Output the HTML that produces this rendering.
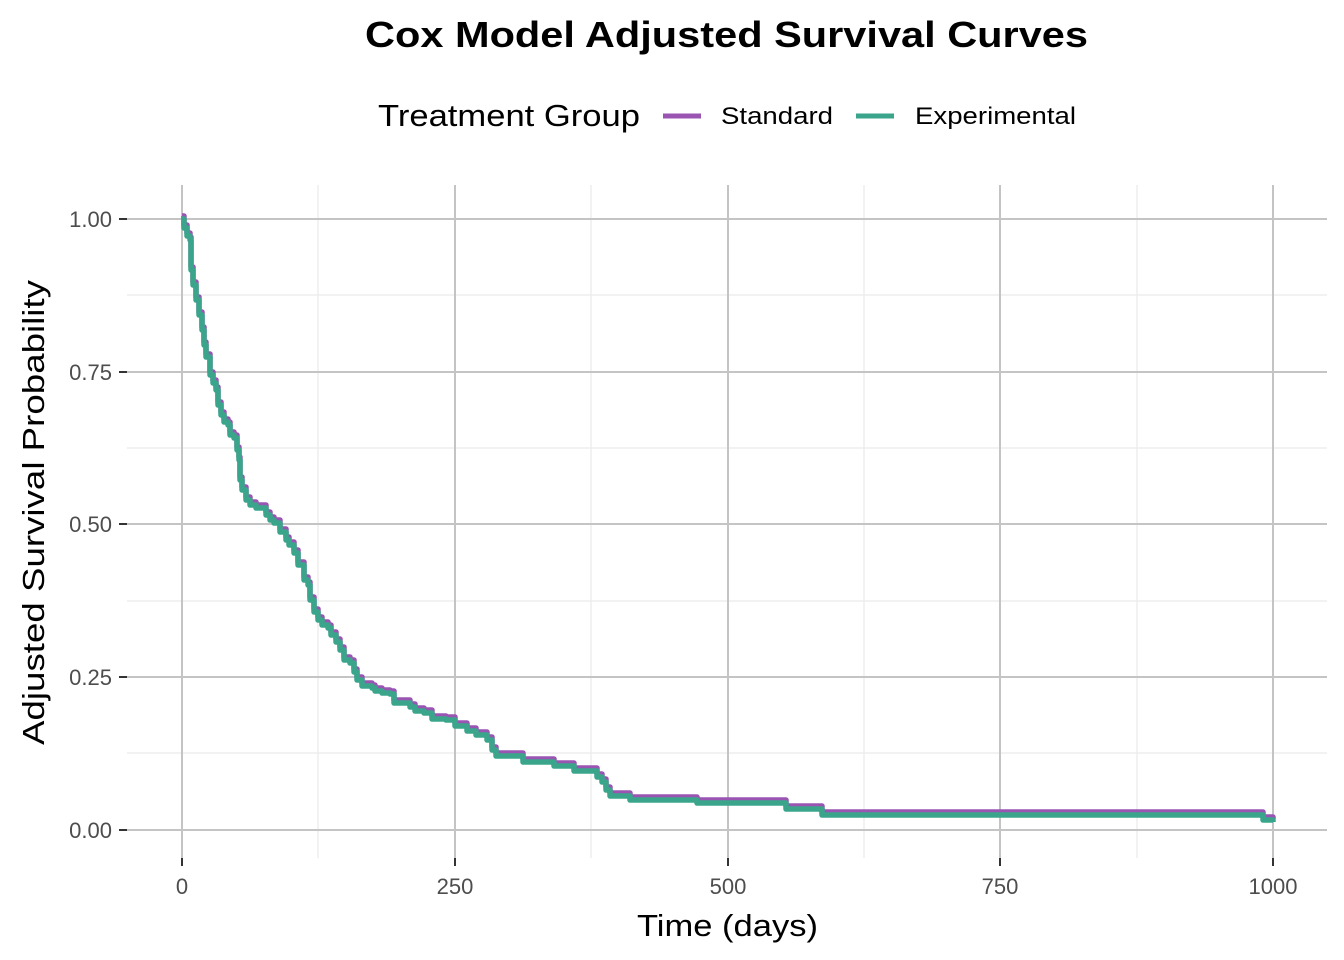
<!DOCTYPE html>
<html><head><meta charset="utf-8"><style>
html,body{margin:0;padding:0;background:#fff;}
svg{display:block;font-family:"Liberation Sans",Arial,sans-serif;}
</style></head><body>
<svg width="1344" height="960" viewBox="0 0 1344 960" xmlns="http://www.w3.org/2000/svg">
<rect width="1344" height="960" fill="#fff"/>
<text x="365" y="47" font-size="36" font-weight="bold" fill="#000" textLength="723" lengthAdjust="spacingAndGlyphs">Cox Model Adjusted Survival Curves</text>
<text x="378" y="126" font-size="31" fill="#000" textLength="262" lengthAdjust="spacingAndGlyphs">Treatment Group</text>
<line x1="663" y1="116" x2="701" y2="116" stroke="#9a55b3" stroke-width="5"/>
<text x="721" y="124" font-size="24" fill="#000" textLength="112" lengthAdjust="spacingAndGlyphs">Standard</text>
<line x1="856" y1="116" x2="894" y2="116" stroke="#3aa58b" stroke-width="5"/>
<text x="915" y="124" font-size="24" fill="#000" textLength="161" lengthAdjust="spacingAndGlyphs">Experimental</text>
<g stroke="#ebebeb" stroke-width="1.3">
<line x1="127" y1="295" x2="1327" y2="295"/><line x1="127" y1="448" x2="1327" y2="448"/>
<line x1="127" y1="601" x2="1327" y2="601"/><line x1="127" y1="753" x2="1327" y2="753"/>
<line x1="318" y1="185" x2="318" y2="858"/><line x1="591" y1="185" x2="591" y2="858"/>
<line x1="864" y1="185" x2="864" y2="858"/><line x1="1137" y1="185" x2="1137" y2="858"/>
</g>
<g stroke="#c4c4c4" stroke-width="2">
<line x1="127" y1="219" x2="1327" y2="219"/><line x1="127" y1="372" x2="1327" y2="372"/>
<line x1="127" y1="524" x2="1327" y2="524"/><line x1="127" y1="677" x2="1327" y2="677"/>
<line x1="127" y1="830" x2="1327" y2="830"/>
<line x1="182" y1="185" x2="182" y2="858"/><line x1="455" y1="185" x2="455" y2="858"/>
<line x1="728" y1="185" x2="728" y2="858"/><line x1="1000" y1="185" x2="1000" y2="858"/>
<line x1="1273" y1="185" x2="1273" y2="858"/>
</g>
<g stroke="#333" stroke-width="2">
<line x1="119" y1="219" x2="127" y2="219"/><line x1="119" y1="372" x2="127" y2="372"/>
<line x1="119" y1="524" x2="127" y2="524"/><line x1="119" y1="677" x2="127" y2="677"/>
<line x1="119" y1="830" x2="127" y2="830"/>
<line x1="182" y1="858" x2="182" y2="866"/><line x1="455" y1="858" x2="455" y2="866"/>
<line x1="728" y1="858" x2="728" y2="866"/><line x1="1000" y1="858" x2="1000" y2="866"/>
<line x1="1273" y1="858" x2="1273" y2="866"/>
</g>
<g font-size="22" fill="#4d4d4d" text-anchor="end">
<text x="112" y="227">1.00</text><text x="112" y="380">0.75</text><text x="112" y="532">0.50</text>
<text x="112" y="685">0.25</text><text x="112" y="838">0.00</text>
</g>
<g font-size="22" fill="#4d4d4d" text-anchor="middle">
<text x="182" y="894">0</text><text x="455" y="894">250</text><text x="728" y="894">500</text>
<text x="1000" y="894">750</text><text x="1273" y="894">1000</text>
</g>
<text x="637" y="936" font-size="31" fill="#000" textLength="181" lengthAdjust="spacingAndGlyphs">Time (days)</text>
<text transform="translate(44,745) rotate(-90)" font-size="31" fill="#000" textLength="465" lengthAdjust="spacingAndGlyphs">Adjusted Survival Probability</text>
<defs>
<path id="c" d="M182,219 H184 V228 H187 V236 H190 V240 H191 V270 H193 V285 H196 V300 H199 V315 H202 V330 H204 V345 H206 V357 H210 V375 H213 V383 H216 V390 H218 V405 H221 V415 H224 V422 H228 V425 H230 V435 H234 V438 H237 V450 H239 V460 H240 V480 H242 V490 H246 V500 H250 V505 H256 V508 H262 V508 H266 V515 H270 V520 H274 V523 H280 V532 H286 V540 H289 V545 H294 V553 H298 V565 H304 V580 H308 V585 H310 V600 H314 V612 H318 V620 H322 V625 H328 V628 H331 V635 H336 V642 H340 V650 H344 V660 H350 V663 H354 V672 H357 V680 H362 V686 H372 V688 H375 V691 H382 V693 H390 V694 H394 V703 H405 V703 H410 V707 H415 V711 H424 V713 H432 V719 H446 V720 H455 V726 H467 V731 H476 V735 H487 V740 H492 V750 H496 V756 H520 V756 H523 V762 H550 V762 H554 V766 H570 V766 H574 V771 H594 V771 H597 V777 H602 V782 H606 V790 H610 V796 H630 V800 H692 V800 H697 V803 H786 V809 H822 V815 H1263 V820 H1273 V822"/>
</defs>
<use href="#c" transform="translate(0,-3)" fill="none" stroke="#9a55b3" stroke-width="5.5" stroke-linejoin="round"/>
<use href="#c" fill="none" stroke="#3aa58b" stroke-width="5.5" stroke-linejoin="round"/>
</svg>
</body></html>
